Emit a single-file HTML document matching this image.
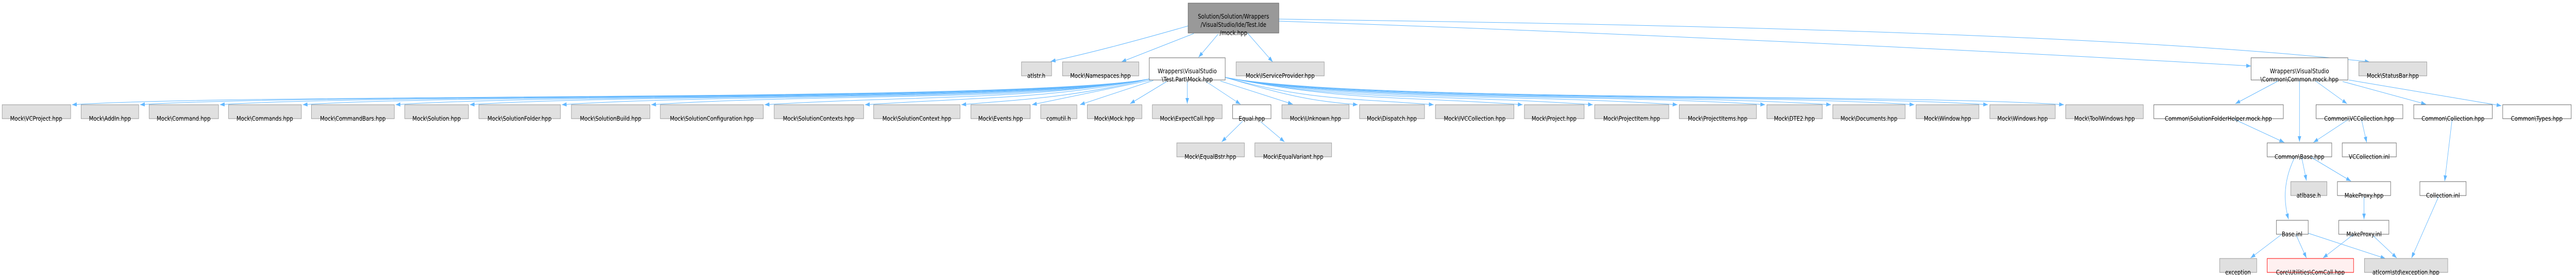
<!DOCTYPE html>
<html><head><meta charset="utf-8"><style>
html,body{margin:0;padding:0;background:#fff;width:100%;height:100%;overflow:hidden;}
svg{display:block;width:100vw;height:100vh;}
text{font-family:"DejaVu Sans","Liberation Sans",sans-serif;font-size:12px;fill:#000;text-anchor:middle;}
.g{fill:#e0e0e0;stroke:#999;stroke-width:1;}
.w{fill:#fff;stroke:#666;stroke-width:1;}
.t{fill:#999;stroke:#666;stroke-width:1;}
.r{fill:#fff0f0;stroke:#f00;stroke-width:1;}
path.e{fill:none;stroke:#63b8ff;stroke-width:1;marker-end:url(#a);}
</style></head><body>
<svg viewBox="0 0 5906 533" preserveAspectRatio="none" xmlns="http://www.w3.org/2000/svg">
<defs><marker id="a" markerUnits="userSpaceOnUse" markerWidth="12" markerHeight="10" refX="11" refY="4" orient="auto"><path d="M0,0 L11,4 L0,8 z" fill="#63b8ff"/></marker></defs>

<path class="e" d="M2725,50 C2560,90 2460,110 2409,119"/>
<path class="e" d="M2737,65 L2571,120"/>
<path class="e" d="M2793,66 L2748,111"/>
<path class="e" d="M2860,64 L2918,120"/>
<path class="e" d="M2932,37 C3600,45 4800,60 5433,120"/>
<path class="e" d="M2932,41 C3600,60 4500,95 5161,128"/>

<path class="e" d="M2636,153 C2350,198 565,180 165,203"/>
<path class="e" d="M2636,153 C2350,198 721,180 321,203"/>
<path class="e" d="M2636,153 C2350,198 904,180 504,203"/>
<path class="e" d="M2636,153 C2350,198 1094,180 694,203"/>
<path class="e" d="M2636,153 C2350,198 1307,180 907,203"/>
<path class="e" d="M2636,153 C2350,198 1477,180 1077,203"/>
<path class="e" d="M2636,153 C2350,198 1688,180 1288,203"/>
<path class="e" d="M2636,153 C2350,198 1893,180 1493,203"/>
<path class="e" d="M2636,153 C2350,195 2100,185 1753,203"/>
<path class="e" d="M2636,153 C2400,192 2250,188 1983,203"/>
<path class="e" d="M2636,153 C2450,190 2350,192 2204,203"/>
<path class="e" d="M2640,155 L2366,203"/>
<path class="e" d="M2644,156 L2476,203"/>
<path class="e" d="M2675,158 L2591,201"/>
<path class="e" d="M2722,158 L2722,201"/>
<path class="e" d="M2765,158 L2844,202"/>
<path class="e" d="M2798,157 L2964,202"/>
<path class="e" d="M2809,150 C2950,185 3000,195 3113,203"/>
<path class="e" d="M2809,150 C3000,195 3100,190 3287,203"/>
<path class="e" d="M2809,150 C3100,198 3200,185 3491,203"/>
<path class="e" d="M2809,150 C3100,198 3252,180 3652,203"/>
<path class="e" d="M2809,150 C3100,198 3446,180 3846,203"/>
<path class="e" d="M2809,150 C3100,198 3647,180 4047,203"/>
<path class="e" d="M2809,150 C3100,198 3798,180 4198,203"/>
<path class="e" d="M2809,150 C3100,198 3989,180 4389,203"/>
<path class="e" d="M2809,150 C3100,198 4158,180 4558,203"/>
<path class="e" d="M2809,150 C3100,198 4332,180 4732,203"/>
<path class="e" d="M2849,235 L2801,275"/>
<path class="e" d="M2889,235 L2945,275"/>

<path class="e" d="M5223,157 L5125,201"/>
<path class="e" d="M5272,157 L5272,275"/>
<path class="e" d="M5309,157 L5381,201"/>
<path class="e" d="M5371,158 L5562,202"/>
<path class="e" d="M5385,155 L5735,205"/>
<path class="e" d="M5122,231 L5237,276"/>
<path class="e" d="M5385,231 L5304,276"/>
<path class="e" d="M5414,231 L5426,276"/>
<path class="e" d="M5622,231 L5605,351"/>
<path class="e" d="M5277,305 L5288,350"/>
<path class="e" d="M5299,305 L5390,351"/>
<path class="e" d="M5261,305 C5235,350 5235,390 5247,425"/>
<path class="e" d="M5420,380 L5420,425"/>
<path class="e" d="M5230,455 L5160,500"/>
<path class="e" d="M5264,455 L5288,500"/>
<path class="e" d="M5292,452 L5469,501"/>
<path class="e" d="M5395,455 L5326,500"/>
<path class="e" d="M5441,457 L5495,500"/>
<path class="e" d="M5591,381 L5529,500"/>

<rect class="t" x="2724" y="6" width="208" height="58"/>
<text x="2828" y="36">Solution/Solution/Wrappers</text>
<text x="2828" y="52">/VisualStudio/Ide/Test.Ide</text>
<text x="2828" y="68">/mock.hpp</text>

<rect class="g" x="2342" y="120" width="69" height="27"/><text x="2376" y="151">atlstr.h</text>
<rect class="g" x="2436" y="120" width="175" height="27"/><text x="2523" y="151">Mock\Namespaces.hpp</text>
<rect class="w" x="2635" y="112" width="174" height="43"/><text x="2722" y="142">Wrappers\VisualStudio</text><text x="2722" y="158">\Test.Part\Mock.hpp</text>
<rect class="g" x="2834" y="120" width="202" height="27"/><text x="2935" y="151">Mock\IServiceProvider.hpp</text>
<rect class="w" x="5161" y="112" width="222" height="43"/><text x="5272" y="142">Wrappers\VisualStudio</text><text x="5272" y="158">\Common\Common.mock.hpp</text>
<rect class="g" x="5408" y="120" width="156" height="27"/><text x="5486" y="151">Mock\StatusBar.hpp</text>

<rect class="g" x="5" y="203" width="157" height="27"/><text x="83" y="234">Mock\VCProject.hpp</text>
<rect class="g" x="186" y="203" width="132" height="27"/><text x="252" y="234">Mock\AddIn.hpp</text>
<rect class="g" x="342" y="203" width="159" height="27"/><text x="421" y="234">Mock\Command.hpp</text>
<rect class="g" x="524" y="203" width="167" height="27"/><text x="607" y="234">Mock\Commands.hpp</text>
<rect class="g" x="714" y="203" width="190" height="27"/><text x="809" y="234">Mock\CommandBars.hpp</text>
<rect class="g" x="928" y="203" width="146" height="27"/><text x="1001" y="234">Mock\Solution.hpp</text>
<rect class="g" x="1098" y="203" width="187" height="27"/><text x="1191" y="234">Mock\SolutionFolder.hpp</text>
<rect class="g" x="1310" y="203" width="180" height="27"/><text x="1400" y="234">Mock\SolutionBuild.hpp</text>
<rect class="g" x="1514" y="203" width="236" height="27"/><text x="1632" y="234">Mock\SolutionConfiguration.hpp</text>
<rect class="g" x="1775" y="203" width="205" height="27"/><text x="1877" y="234">Mock\SolutionContexts.hpp</text>
<rect class="g" x="2003" y="203" width="198" height="27"/><text x="2102" y="234">Mock\SolutionContext.hpp</text>
<rect class="g" x="2226" y="203" width="136" height="27"/><text x="2294" y="234">Mock\Events.hpp</text>
<rect class="g" x="2386" y="203" width="83" height="27"/><text x="2427" y="234">comutil.h</text>
<rect class="g" x="2493" y="203" width="125" height="27"/><text x="2555" y="234">Mock\Mock.hpp</text>
<rect class="g" x="2642" y="203" width="160" height="27"/><text x="2722" y="234">Mock\ExpectCall.hpp</text>
<rect class="w" x="2826" y="203" width="88" height="27"/><text x="2870" y="234">Equal.hpp</text>
<rect class="g" x="2939" y="203" width="154" height="27"/><text x="3016" y="234">Mock\Unknown.hpp</text>
<rect class="g" x="3117" y="203" width="149" height="27"/><text x="3191" y="234">Mock\Dispatch.hpp</text>
<rect class="g" x="3291" y="203" width="180" height="27"/><text x="3381" y="234">Mock\IVCCollection.hpp</text>
<rect class="g" x="3495" y="203" width="137" height="27"/><text x="3563" y="234">Mock\Project.hpp</text>
<rect class="g" x="3656" y="203" width="170" height="27"/><text x="3741" y="234">Mock\ProjectItem.hpp</text>
<rect class="g" x="3850" y="203" width="177" height="27"/><text x="3938" y="234">Mock\ProjectItems.hpp</text>
<rect class="g" x="4051" y="203" width="127" height="27"/><text x="4114" y="234">Mock\DTE2.hpp</text>
<rect class="g" x="4202" y="203" width="166" height="27"/><text x="4285" y="234">Mock\Documents.hpp</text>
<rect class="g" x="4393" y="203" width="144" height="27"/><text x="4465" y="234">Mock\Window.hpp</text>
<rect class="g" x="4562" y="203" width="150" height="27"/><text x="4637" y="234">Mock\Windows.hpp</text>
<rect class="g" x="4736" y="203" width="178" height="27"/><text x="4825" y="234">Mock\ToolWindows.hpp</text>
<rect class="w" x="4938" y="203" width="297" height="27"/><text x="5086" y="234">Common\SolutionFolderHelper.mock.hpp</text>
<rect class="w" x="5310" y="203" width="199" height="27"/><text x="5409" y="234">Common\VCCollection.hpp</text>
<rect class="w" x="5534" y="203" width="180" height="27"/><text x="5624" y="234">Common\Collection.hpp</text>
<rect class="w" x="5738" y="203" width="157" height="27"/><text x="5816" y="234">Common\Types.hpp</text>

<rect class="g" x="2698" y="277" width="155" height="27"/><text x="2775" y="308">Mock\EqualBstr.hpp</text>
<rect class="g" x="2877" y="277" width="176" height="27"/><text x="2965" y="308">Mock\EqualVariant.hpp</text>
<rect class="w" x="5198" y="277" width="148" height="27"/><text x="5272" y="308">Common\Base.hpp</text>
<rect class="w" x="5370" y="277" width="124" height="27"/><text x="5432" y="308">VCCollection.inl</text>

<rect class="g" x="5252" y="352" width="83" height="27"/><text x="5293" y="383">atlbase.h</text>
<rect class="w" x="5359" y="352" width="122" height="27"/><text x="5420" y="383">MakeProxy.hpp</text>
<rect class="w" x="5548" y="352" width="106" height="27"/><text x="5601" y="383">Collection.inl</text>

<rect class="w" x="5219" y="427" width="73" height="27"/><text x="5255" y="458">Base.inl</text>
<rect class="w" x="5362" y="427" width="115" height="27"/><text x="5420" y="458">MakeProxy.inl</text>

<rect class="g" x="5089" y="501" width="85" height="27"/><text x="5131" y="532">exception</text>
<rect class="r" x="5198" y="501" width="198" height="27"/><text x="5297" y="532">Core\Utilities\ComCall.hpp</text>
<rect class="g" x="5421" y="501" width="191" height="27"/><text x="5516" y="532">atlcorn\std\exception.hpp</text>
</svg>
</body></html>
